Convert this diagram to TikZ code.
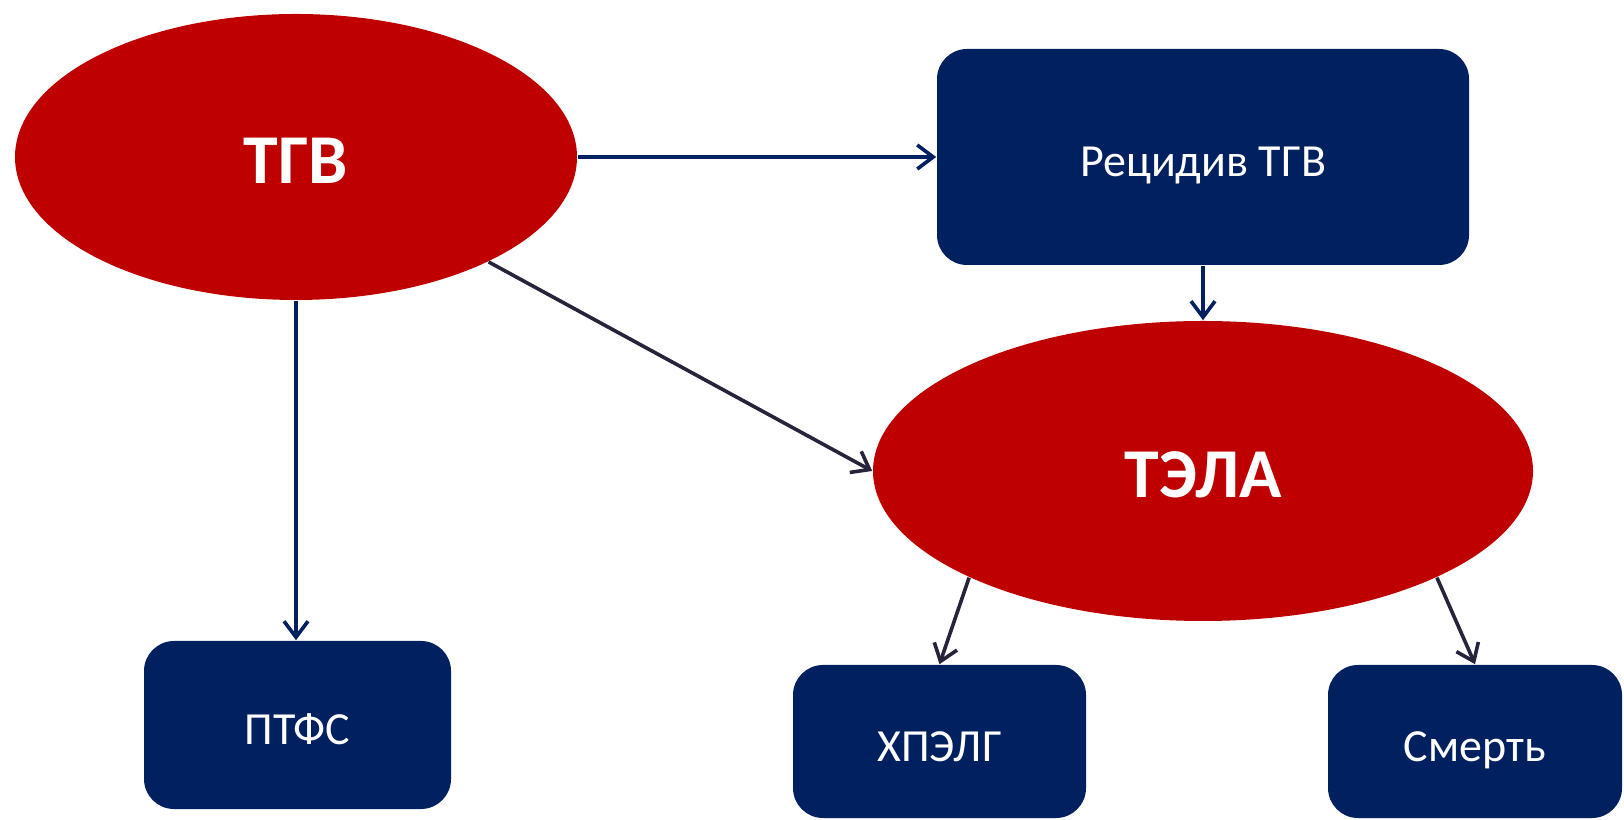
\documentclass[tikz,border=0pt]{standalone}
\usepackage{fontspec}
\setmainfont{Carlito}
\usetikzlibrary{shapes.geometric,arrows.meta}
\definecolor{tred}{HTML}{BE0000}
\definecolor{tnavy}{HTML}{002060}
\definecolor{tdark}{HTML}{26243A}
\begin{document}
\begin{tikzpicture}[x=0.25pt,y=-0.25pt,
  ell/.style={ellipse, fill=tred, inner sep=0pt, text=white, text height=13.2pt, text depth=0pt, font=\bfseries\fontsize{17.5}{20}\selectfont},
  box/.style={rectangle, rounded corners=7.5pt, fill=tnavy, inner sep=0pt, text=white, text height=9.6pt, text depth=0pt, font=\fontsize{11.5}{13}\selectfont},
  arr/.style={line width=0.9pt, -{Straight Barb[length=4pt,width=6pt]}},
  navyarr/.style={arr, draw=tnavy},
  darkarr/.style={arr, draw=tdark},
]
\useasboundingbox (0,0) rectangle (1624,820);
\node[ell, minimum width=140.5pt, minimum height=71.5pt] (tgv) at (296,157) {ТГВ};
\node[ell, minimum width=165pt, minimum height=75pt] (tela) at (1203,471) {ТЭЛА};
\node[box, minimum width=133pt, minimum height=54pt] (rec) at (1203,157) {Рецидив ТГВ};
\node[box, minimum width=76.75pt, minimum height=42pt] (ptfs) at (297.5,725) {ПТФС};
\node[box, minimum width=73.25pt, minimum height=38.25pt, text height=10pt] (hpelg) at (939.5,741.5) {ХПЭЛГ};
\node[box, minimum width=73.5pt, minimum height=38.25pt, text height=10pt] (death) at (1475,741.5) {Смерть};
\draw[navyarr] (tgv.east) -- (rec.west);
\draw[navyarr] (rec.south) -- (tela.north);
\draw[navyarr] (tgv.south) -- (tgv.south |- ptfs.north);
\draw[darkarr] (tgv) -- (tela.west);
\draw[darkarr] (tela.south west) -- (hpelg.north);
\draw[darkarr] (tela.south east) -- (death.north);
\end{tikzpicture}
\end{document}
